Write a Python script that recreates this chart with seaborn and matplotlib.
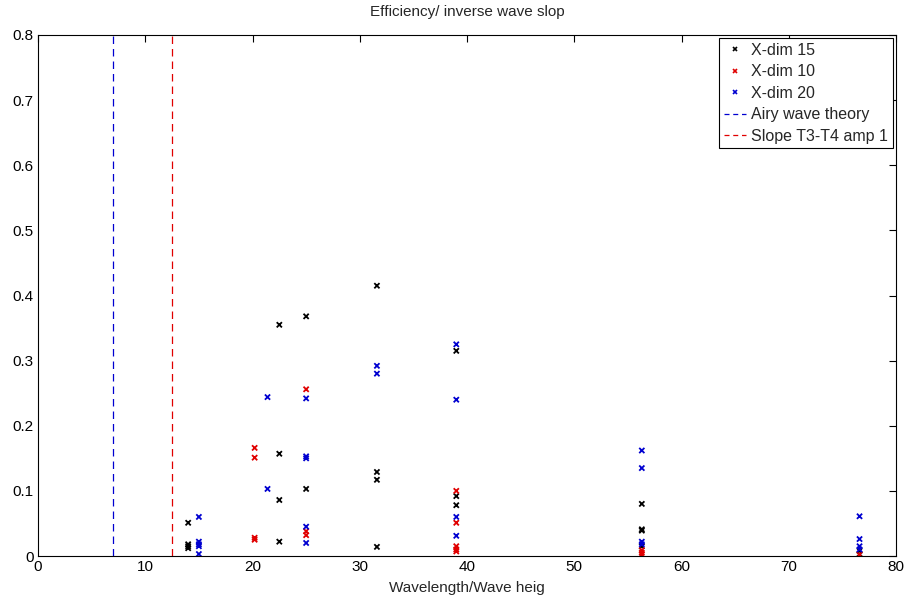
import numpy as np
import pandas as pd
import seaborn as sns
import matplotlib
matplotlib.use("Agg")
import matplotlib.pyplot as plt
from matplotlib.lines import Line2D

# Efficiency measurements per wavelength/wave-height ratio
xdim15_x = [14.0, 14.0, 14.0, 14.0,
            22.5, 22.5, 22.5, 22.5,
            25.0, 25.0,
            31.6, 31.6, 31.6, 31.6,
            39.0, 39.0, 39.0,
            56.3, 56.3, 56.3, 56.3,
            76.6, 76.6]
xdim15_y = [0.051, 0.018, 0.015, 0.012,
            0.355, 0.157, 0.086, 0.022,
            0.368, 0.103,
            0.415, 0.129, 0.117, 0.014,
            0.315, 0.092, 0.078,
            0.080, 0.041, 0.039, 0.015,
            0.008, 0.003]

xdim10_x = [20.2, 20.2, 20.2, 20.2,
            25.0, 25.0, 25.0,
            39.0, 39.0, 39.0, 39.0, 39.0,
            56.3, 56.3, 56.3,
            76.6]
xdim10_y = [0.166, 0.151, 0.028, 0.025,
            0.256, 0.038, 0.032,
            0.100, 0.051, 0.015, 0.010, 0.007,
            0.009, 0.005, 0.002,
            0.002]

xdim20_x = [15.0, 15.0, 15.0, 15.0, 15.0,
            21.4, 21.4,
            25.0, 25.0, 25.0, 25.0, 25.0,
            31.6, 31.6,
            39.0, 39.0, 39.0, 39.0,
            56.3, 56.3, 56.3, 56.3,
            76.6, 76.6, 76.6, 76.6]
xdim20_y = [0.060, 0.022, 0.018, 0.015, 0.003,
            0.244, 0.103,
            0.242, 0.153, 0.150, 0.045, 0.020,
            0.292, 0.280,
            0.325, 0.240, 0.060, 0.031,
            0.162, 0.135, 0.022, 0.018,
            0.061, 0.026, 0.015, 0.010]

airy_x = 7.0
slope_x = 12.5

series_names = ["X-dim 15", "X-dim 10", "X-dim 20"]
series_colors = ["#000000", "#E00000", "#0000D0"]

df = pd.concat([
    pd.DataFrame({"x": xdim15_x, "y": xdim15_y, "series": series_names[0]}),
    pd.DataFrame({"x": xdim10_x, "y": xdim10_y, "series": series_names[1]}),
    pd.DataFrame({"x": xdim20_x, "y": xdim20_y, "series": series_names[2]}),
], ignore_index=True)

sns.set_style("white")
plt.rcParams["font.family"] = ["Liberation Sans", "DejaVu Sans"]

fig = plt.figure(figsize=(9.05, 5.99), dpi=100)
ax = fig.add_axes([38 / 905, 1 - 556 / 599, (896 - 38) / 905, (556 - 35) / 599])

sns.scatterplot(data=df, x="x", y="y", hue="series", hue_order=series_names,
                palette=series_colors, marker="x", s=14, linewidth=1.3,
                ax=ax, legend=False)

ax.axvline(airy_x, color="#0000D0", linestyle=(0, (6, 4)), linewidth=0.9)
ax.axvline(slope_x, color="#E00000", linestyle=(0, (6, 4)), linewidth=0.9)

ax.set_xlim(0, 80)
ax.set_ylim(0, 0.8)
ax.set_xticks(np.arange(0, 81, 10))
ax.set_yticks(np.arange(0, 0.81, 0.1))
ax.set_xticklabels([str(v) for v in range(0, 81, 10)])
ax.set_yticklabels(["0", "0.1", "0.2", "0.3", "0.4", "0.5", "0.6", "0.7", "0.8"])
ax.tick_params(direction="in", top=True, right=True, length=5, width=0.8,
               labelsize=11, pad=3, colors="black")
for sp in ax.spines.values():
    sp.set_color("black")
    sp.set_linewidth(0.8)

ax.set_title("Efficiency/ inverse wave slop", fontsize=11, pad=14)
ax.set_xlabel("Wavelength/Wave heig", fontsize=11, labelpad=5)
ax.set_ylabel("")

handles = [Line2D([], [], color=c, marker="x", linestyle="none", markersize=3.5,
                  markeredgewidth=1.2) for c in series_colors]
handles += [Line2D([], [], color="#0000D0", linestyle=(0, (4, 3)), linewidth=0.9),
            Line2D([], [], color="#E00000", linestyle=(0, (4, 3)), linewidth=0.9)]
labels = series_names + ["Airy wave theory", "Slope T3-T4 amp 1"]
leg = ax.legend(handles, labels, loc="upper right", fontsize=11.5, frameon=True,
                fancybox=False, edgecolor="black", borderaxespad=0.2,
                handlelength=1.4, handletextpad=0.3, labelspacing=0.4,
                borderpad=0.3, framealpha=1)
leg.get_frame().set_linewidth(0.8)

fig.savefig("out.png", dpi=100)
